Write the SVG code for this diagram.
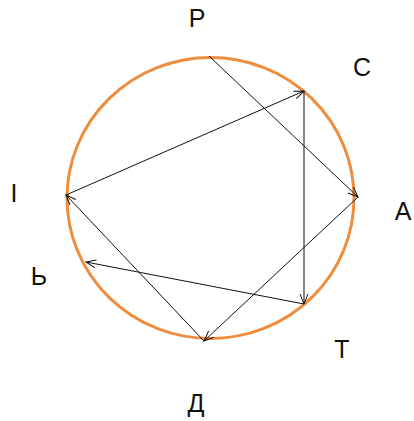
<svg xmlns="http://www.w3.org/2000/svg" width="414" height="421" viewBox="0 0 414 421">
<defs>
<marker id="arr" markerUnits="userSpaceOnUse" markerWidth="12" markerHeight="10" refX="11" refY="4.5" orient="auto">
<path d="M1,0.5 L11,4.5 L1,8.5" fill="none" stroke="#111" stroke-width="1"/>
</marker>
<style>
.lbl{font-family:"Liberation Sans",Arial,sans-serif;font-size:25px;fill:#111;text-anchor:middle}
.c{fill:none;stroke:#111;stroke-width:1;marker-end:url(#arr)}
</style>
</defs>
<rect width="414" height="421" fill="#fff"/>
<g id="circle"><ellipse cx="210.5" cy="198" rx="143.5" ry="140.5" fill="none" stroke="#ef8d3e" stroke-width="3"/></g>
<g id="connectors">
<line class="c" x1="209" y1="56" x2="358" y2="197"/>
<line class="c" x1="358" y1="197" x2="204" y2="341"/>
<line class="c" x1="204" y1="341" x2="66" y2="195"/>
<line class="c" x1="66" y1="195" x2="304" y2="91"/>
<line class="c" x1="304" y1="91" x2="304" y2="304"/>
<line class="c" x1="304" y1="304" x2="86" y2="262"/>
</g>
<g id="node-P"><text class="lbl" x="197" y="27">Р</text></g>
<g id="node-C"><text class="lbl" x="362" y="76">С</text></g>
<g id="node-A"><text class="lbl" x="403" y="220">А</text></g>
<g id="node-I"><text class="lbl" x="14" y="202">І</text></g>
<g id="node-soft"><text class="lbl" x="39" y="285">Ь</text></g>
<g id="node-T"><text class="lbl" x="342" y="358">Т</text></g>
<g id="node-D"><text class="lbl" x="196" y="412">Д</text></g>
</svg>
